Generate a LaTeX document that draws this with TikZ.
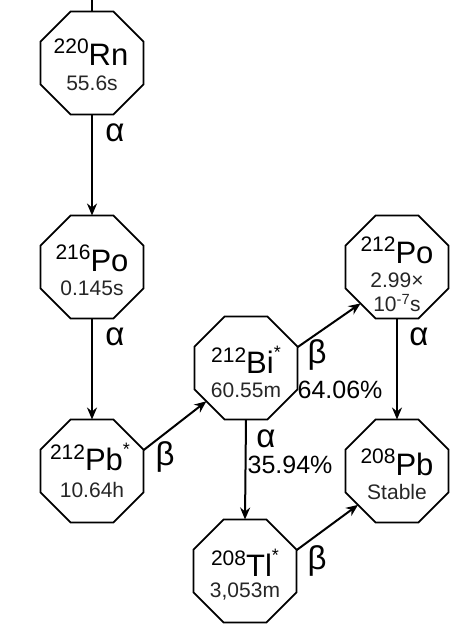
\documentclass[tikz,border=0pt]{standalone}
\usepackage{fontspec}
\setmainfont{Liberation Sans}
\usetikzlibrary{shapes.geometric,arrows.meta}
\begin{document}
\begin{tikzpicture}[x=1pt,y=-1pt,
  octa/.style={draw,line width=1.8pt,regular polygon,regular polygon sides=8,
    minimum size=111.5pt,inner sep=0pt,outer sep=0pt},
  iso/.style={inner sep=0pt,font=\fontsize{31}{31}\selectfont},
  half/.style={inner sep=0pt,font=\fontsize{21}{21}\selectfont,text=black!85},
  lab/.style={inner sep=0pt,font=\fontsize{25}{25}\selectfont},
  greek/.style={inner sep=0pt,font=\fontsize{33}{33}\selectfont},
  arr/.style={line width=2pt,-{Stealth[length=12pt,width=10pt,inset=4pt]}}]
\useasboundingbox (0,0) rectangle (453,625);
% nodes
\node[octa] (rn) at (92,63) {};
\node[octa] (po216) at (92,267) {};
\node[octa] (pb212) at (92,471) {};
\node[octa] (bi) at (246,368) {};
\node[octa] (po212) at (397,267) {};
\node[octa] (pb208) at (397,471) {};
\node[octa] (tl) at (245,571) {};
% texts
\newcommand{\myiso}[3]{\raisebox{0.38em}{\fontsize{21}{21}\selectfont #1}#2#3}
\newcommand{\mystar}{\raisebox{0.5em}{\fontsize{18}{18}\selectfont*}}
\node[iso] (rnt) at (91,52) {\myiso{220}{Rn}{}};
\node[half] (rnh) at (92,83) {55.6s};
\node[iso] (po216t) at (92,258) {\myiso{216}{Po}{}};
\node[half] (po216h) at (92,288) {0.145s};
\node[iso] (pb212t) at (90,457) {\myiso{212}{Pb}{\mystar}};
\node[half] (pb212h) at (92,490) {10.64h};
\node[iso] (bit) at (246,360) {\myiso{212}{Bi}{\mystar}};
\node[half] (bih) at (246,390) {60.55m};
\node[iso] (po212t) at (397,250) {\myiso{212}{Po}{}};
\node[half] (po212h) at (397,280) {2.99×};
\node[half] (po212h2) at (397,303) {10\textsuperscript{-7}s};
\node[iso] (pb208t) at (397,462) {\myiso{208}{Pb}{}};
\node[half] (pb208h) at (397,492) {Stable};
\node[iso] (tlt) at (245,563) {\myiso{208}{Tl}{\mystar}};
\node[half] (tlh) at (245,592) {3,053m};
% connectors
\coordinate (top) at (92,0);
\draw[line width=2pt] (top) -- (rn.north);
\draw[arr] (rn.south) -- (po216.north);
\draw[arr] (po216.south) -- (pb212.north);
\draw[arr] (pb212.22.5) -- (bi.220);
\draw[arr] (bi.22.5) -- (po212.225);
\draw[arr] (bi.south) -- (tl.north);
\draw[arr] (po212.south) -- (pb208.north);
\draw[arr] (tl.22.5) -- (pb208.221);
% labels
\node[greek] (a1) at (115,133) {α};
\node[greek] (a2) at (115,337) {α};
\node[greek] (b1) at (165,457) {β};
\node[greek] (b2) at (317,355) {β};
\node[lab] (p1) at (340,390) {64.06\%};
\node[greek] (a3) at (419,337) {α};
\node[greek] (a4) at (266,439) {α};
\node[lab] (p2) at (290,465) {35.94\%};
\node[greek] (b3) at (317,561) {β};
\end{tikzpicture}
\end{document}
